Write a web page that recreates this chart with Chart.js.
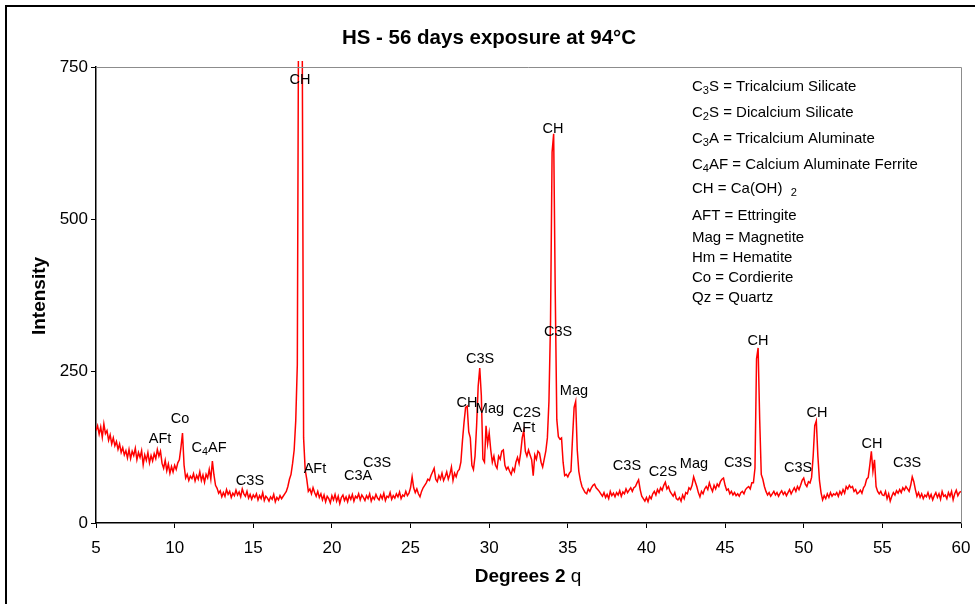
<!DOCTYPE html>
<html><head><meta charset="utf-8">
<script src="https://cdn.jsdelivr.net/npm/chart.js@4"></script>
<style>html,body{margin:0;padding:0;background:#fff}#wrap{position:relative;width:975px;height:604px}</style>
</head><body><div id="wrap"><canvas id="c" width="975" height="604"></canvas></div>
<script>
const angles=[5.0,
5.1,5.2,5.3,5.4,5.5,5.6,5.7,5.8,5.9,6.0,
6.1,6.2,6.3,6.4,6.5,6.6,6.7,6.8,6.9,7.0,
7.1,7.2,7.3,7.4,7.5,7.6,7.7,7.8,7.9,8.0,
8.1,8.2,8.3,8.4,8.5,8.6,8.7,8.8,8.9,9.0,
9.1,9.2,9.3,9.4,9.5,9.6,9.7,9.8,9.9,10.0,
10.1,10.2,10.3,10.4,10.5,10.6,10.7,10.8,10.9,11.0,
11.1,11.2,11.3,11.4,11.5,11.6,11.7,11.8,11.9,12.0,
12.1,12.2,12.3,12.4,12.5,12.6,12.7,12.8,12.9,13.0,
13.1,13.2,13.3,13.4,13.5,13.6,13.7,13.8,13.9,14.0,
14.1,14.2,14.3,14.4,14.5,14.6,14.7,14.8,14.9,15.0,
15.1,15.2,15.3,15.4,15.5,15.6,15.7,15.8,15.9,16.0,
16.1,16.2,16.3,16.4,16.5,16.6,16.7,16.8,16.9,17.0,
17.1,17.2,17.3,17.4,17.5,17.6,17.7,17.8,17.9,18.0,
18.1,18.2,18.3,18.4,18.5,18.6,18.7,18.8,18.9,19.0,
19.1,19.2,19.3,19.4,19.5,19.6,19.7,19.8,19.9,20.0,
20.1,20.2,20.3,20.4,20.5,20.6,20.7,20.8,20.9,21.0,
21.1,21.2,21.3,21.4,21.5,21.6,21.7,21.8,21.9,22.0,
22.1,22.2,22.3,22.4,22.5,22.6,22.7,22.8,22.9,23.0,
23.1,23.2,23.3,23.4,23.5,23.6,23.7,23.8,23.9,24.0,
24.1,24.2,24.3,24.4,24.5,24.6,24.7,24.8,24.9,25.0,
25.1,25.2,25.3,25.4,25.5,25.6,25.7,25.8,25.9,26.0,
26.1,26.2,26.3,26.4,26.5,26.6,26.7,26.8,26.9,27.0,
27.1,27.2,27.3,27.4,27.5,27.6,27.7,27.8,27.9,28.0,
28.1,28.2,28.3,28.4,28.5,28.6,28.7,28.8,28.9,29.0,
29.1,29.2,29.3,29.4,29.5,29.6,29.7,29.8,29.9,30.0,
30.1,30.2,30.3,30.4,30.5,30.6,30.7,30.8,30.9,31.0,
31.1,31.2,31.3,31.4,31.5,31.6,31.7,31.8,31.9,32.0,
32.1,32.2,32.3,32.4,32.5,32.6,32.7,32.8,32.9,33.0,
33.1,33.2,33.3,33.4,33.5,33.6,33.7,33.8,33.9,34.0,
34.1,34.2,34.3,34.4,34.5,34.6,34.7,34.8,34.9,35.0,
35.1,35.2,35.3,35.4,35.5,35.6,35.7,35.8,35.9,36.0,
36.1,36.2,36.3,36.4,36.5,36.6,36.7,36.8,36.9,37.0,
37.1,37.2,37.3,37.4,37.5,37.6,37.7,37.8,37.9,38.0,
38.1,38.2,38.3,38.4,38.5,38.6,38.7,38.8,38.9,39.0,
39.1,39.2,39.3,39.4,39.5,39.6,39.7,39.8,39.9,40.0,
40.1,40.2,40.3,40.4,40.5,40.6,40.7,40.8,40.9,41.0,
41.1,41.2,41.3,41.4,41.5,41.6,41.7,41.8,41.9,42.0,
42.1,42.2,42.3,42.4,42.5,42.6,42.7,42.8,42.9,43.0,
43.1,43.2,43.3,43.4,43.5,43.6,43.7,43.8,43.9,44.0,
44.1,44.2,44.3,44.4,44.5,44.6,44.7,44.8,44.9,45.0,
45.1,45.2,45.3,45.4,45.5,45.6,45.7,45.8,45.9,46.0,
46.1,46.2,46.3,46.4,46.5,46.6,46.7,46.8,46.9,47.0,
47.1,47.2,47.3,47.4,47.5,47.6,47.7,47.8,47.9,48.0,
48.1,48.2,48.3,48.4,48.5,48.6,48.7,48.8,48.9,49.0,
49.1,49.2,49.3,49.4,49.5,49.6,49.7,49.8,49.9,50.0,
50.1,50.2,50.3,50.4,50.5,50.6,50.7,50.8,50.9,51.0,
51.1,51.2,51.3,51.4,51.5,51.6,51.7,51.8,51.9,52.0,
52.1,52.2,52.3,52.4,52.5,52.6,52.7,52.8,52.9,53.0,
53.1,53.2,53.3,53.4,53.5,53.6,53.7,53.8,53.9,54.0,
54.1,54.2,54.3,54.4,54.5,54.6,54.7,54.8,54.9,55.0,
55.1,55.2,55.3,55.4,55.5,55.6,55.7,55.8,55.9,56.0,
56.1,56.2,56.3,56.4,56.5,56.6,56.7,56.8,56.9,57.0,
57.1,57.2,57.3,57.4,57.5,57.6,57.7,57.8,57.9,58.0,
58.1,58.2,58.3,58.4,58.5,58.6,58.7,58.8,58.9,59.0,
59.1,59.2,59.3,59.4,59.5,59.6,59.7,59.8,59.9,60.0];

const intensity=[152,
160,146,158,141,163,147,152,136,145,130,
140,127,134,121,130,116,124,112,119,107,
121,106,118,111,123,104,116,108,119,96,
112,103,116,99,111,102,114,106,121,110,
118,98,90,103,86,97,82,93,84,95,
88,99,104,124,148,95,74,80,70,77,
73,81,69,78,72,84,70,79,67,80,
74,88,72,102,79,62,57,49,53,43,
50,44,55,47,52,42,49,45,54,46,
51,43,56,48,44,52,41,47,39,46,
42,48,38,45,40,50,37,44,41,36,
43,39,47,35,42,38,45,40,44,48,
52,60,72,80,98,120,168,260,1000,1100,
900,140,88,72,52,56,48,58,50,44,
52,42,48,38,46,35,44,40,33,45,
38,47,36,44,32,42,46,37,43,35,
45,39,47,36,44,41,48,38,46,42,
37,45,40,48,36,43,39,47,41,38,
46,40,49,37,44,42,50,39,45,41,
48,43,51,40,46,44,52,45,49,58,
76,58,50,56,48,43,52,58,62,66,
72,70,78,84,90,72,68,78,72,82,
70,76,84,72,80,92,70,82,76,85,
88,100,135,165,190,192,150,140,95,88,
110,160,225,255,210,105,100,160,130,148,
120,100,110,95,90,110,105,118,120,95,
88,92,85,80,90,85,100,108,98,115,
140,152,118,110,120,112,104,78,112,105,
118,115,100,92,105,118,140,200,330,610,
640,380,170,142,138,140,100,78,80,76,
82,85,140,190,200,120,85,70,60,55,
50,48,56,52,58,62,64,58,55,52,
48,44,50,42,47,40,52,45,49,43,
50,46,53,44,51,48,56,50,54,58,
52,58,60,66,71,55,44,40,36,42,
35,44,40,48,52,46,55,50,58,54,
62,67,56,60,52,48,44,50,40,38,
42,36,46,40,50,48,58,55,62,76,
68,60,50,43,52,48,56,60,55,66,
58,52,62,56,64,60,68,72,74,62,
54,56,48,52,46,50,45,48,44,50,
52,48,55,58,60,56,66,66,90,270,
288,170,80,72,60,52,46,50,44,48,
52,46,50,44,49,53,47,51,45,50,
55,48,53,58,52,60,55,62,70,74,
64,60,68,66,75,110,160,168,110,70,
50,38,45,40,48,42,50,44,48,46,
50,44,52,47,55,49,60,56,62,58,
60,52,55,48,50,54,49,58,62,72,
75,95,118,85,104,60,52,48,52,46,
45,52,40,48,36,44,50,46,53,49,
55,50,58,54,60,56,52,62,76,68,
55,44,50,42,48,40,46,43,50,41,
47,38,45,50,42,48,39,52,44,46,
40,50,44,52,38,48,54,45,50,52];

const xTicks=[5,10,15,20,25,30,35,40,45,50,55,60];
const yTicks=[0,250,500,750];

// peak annotations: text ("_n" = subscript digit), angle, intensity
const peakText=["CH","CH","C3S","CH","Mag","C2S","AFt","C3S","Mag","C3S","C2S","Mag","C3S","CH","C3S","CH","CH","C3S","Co","AFt","C_4AF","C3S","AFt","C3A","C3S"];
const peakAngle=[17.97,34.06,29.42,28.59,30.05,32.40,32.21,34.38,35.39,38.76,41.05,43.02,45.82,47.09,49.64,50.84,54.34,56.57,10.34,9.07,12.19,14.79,18.92,21.66,22.87];
const peakValue=[729,648,270,197,187,181,156,314,217,94,84,97,99,299,90,181,130,99,171,138,123,69,89,77,99];

const keyLines=["C_3S = Tricalcium Silicate","C_2S = Dicalcium Silicate","C_3A = Tricalcium Aluminate","C_4AF = Calcium Aluminate Ferrite","CH = Ca(OH)  _2","AFT = Ettringite","Mag = Magnetite","Hm = Hematite","Co = Cordierite","Qz = Quartz"];
const keyY=[87,113,139,165,189,216,238,258,278,298];

const FONT="'Liberation Sans', Arial, sans-serif";

function parseRich(str){
  const segs=[];let buf='';
  for(let i=0;i<str.length;i++){
    if(str[i]==='_'){ if(buf)segs.push({t:buf,sub:false}); buf=''; segs.push({t:str[i+1],sub:true}); i++; }
    else buf+=str[i];
  }
  if(buf)segs.push({t:buf,sub:false});
  return segs;
}
function drawRich(ctx,str,x,y,size,align){
  const segs=parseRich(str);
  const subSize=size*0.74;
  let w=0;
  segs.forEach(s=>{ctx.font=(s.sub?subSize:size)+'px '+FONT; s.w=ctx.measureText(s.t).width; w+=s.w;});
  let cx = align==='center'? x-w/2 : x;
  ctx.textAlign='left'; ctx.textBaseline='middle';
  segs.forEach(s=>{ctx.font=(s.sub?subSize:size)+'px '+FONT; ctx.fillText(s.t,cx,s.sub?y+size*0.26:y); cx+=s.w;});
}

const decor={
  id:'decor',
  beforeDraw(chart){
    const ctx=chart.ctx;
    ctx.save();
    ctx.fillStyle='#fff';ctx.fillRect(0,0,chart.width,chart.height);
    ctx.strokeStyle='#000';ctx.lineWidth=2;
    ctx.strokeRect(6,6,1000,1000);
    ctx.restore();
  },
  afterDraw(chart){
    const ctx=chart.ctx, a=chart.chartArea, xs=chart.scales.x, ys=chart.scales.y;
    ctx.save();
    ctx.strokeStyle='#8c8c8c';ctx.lineWidth=1;
    ctx.beginPath();ctx.moveTo(a.left,a.top+0.5);ctx.lineTo(a.right+0.5,a.top+0.5);ctx.lineTo(a.right+0.5,a.bottom);ctx.stroke();
    ctx.fillStyle='#000';
    ctx.font='bold 20.5px '+FONT;ctx.textAlign='center';ctx.textBaseline='middle';
    ctx.fillText('HS - 56 days exposure at 94°C',489,38);
    ctx.save();ctx.translate(40,296);ctx.rotate(-Math.PI/2);
    ctx.font='bold 19px '+FONT;ctx.fillText('Intensity',0,0);ctx.restore();
    ctx.font='bold 19px '+FONT;ctx.textAlign='left';
    const t1='Degrees 2 ';const w1=ctx.measureText(t1).width;
    ctx.font='19px '+FONT;const w2=ctx.measureText('q').width;
    const sx=528-(w1+w2)/2;
    ctx.font='bold 19px '+FONT;ctx.fillText(t1,sx,577);
    ctx.font='19px '+FONT;ctx.fillText('q',sx+w1,577);
    keyLines.forEach((t,i)=>drawRich(ctx,t,692,keyY[i],15,'left'));
    peakText.forEach((t,i)=>{
      drawRich(ctx,t,xs.getPixelForValue(peakAngle[i]),ys.getPixelForValue(peakValue[i]),14.5,'center');
    });
    ctx.restore();
  }
};

const points=angles.map((a,i)=>({x:a,y:intensity[i]}));

new Chart(document.getElementById('c'),{
  type:'line',
  data:{datasets:[{data:points,borderColor:'#ff0000',borderWidth:1.5,pointRadius:0,tension:0,fill:false,clip:{left:0,top:6,right:0,bottom:0}}]},
  options:{
    responsive:false,animation:false,devicePixelRatio:1,
    layout:{padding:{left:0,top:67,right:14,bottom:0}},
    plugins:{legend:{display:false},tooltip:{enabled:false},title:{display:false}},
    scales:{
      x:{type:'linear',min:5,max:60,
        afterBuildTicks:s=>{s.ticks=xTicks.map(v=>({value:v}));},
        afterFit:s=>{s.height=81;s.paddingLeft=0;s.paddingRight=0;},
        grid:{display:true,drawOnChartArea:false,drawTicks:true,tickLength:5,color:'#000',lineWidth:1},
        border:{display:true,color:'#000',width:1.5},
        ticks:{font:{family:FONT,size:17},color:'#000',padding:10,maxRotation:0,autoSkip:false}},
      y:{type:'linear',min:0,max:750,
        afterBuildTicks:s=>{s.ticks=yTicks.map(v=>({value:v}));},
        afterFit:s=>{s.width=96;s.paddingTop=0;s.paddingBottom=0;},
        grid:{display:true,drawOnChartArea:false,drawTicks:true,tickLength:5,color:'#000',lineWidth:1},
        border:{display:true,color:'#000',width:1.5},
        ticks:{font:{family:FONT,size:17},color:'#000',padding:3}}
    }
  },
  plugins:[decor]
});
</script></body></html>
